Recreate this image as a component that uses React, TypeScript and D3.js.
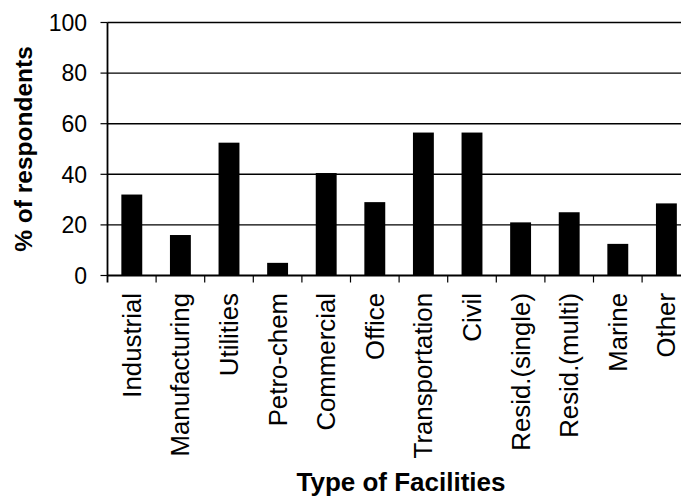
import React from "react";
import * as d3 from "d3";

const categories = [
  "Industrial",
  "Manufacturing",
  "Utilities",
  "Petro-chem",
  "Commercial",
  "Office",
  "Transportation",
  "Civil",
  "Resid.(single)",
  "Resid.(multi)",
  "Marine",
  "Other",
];
const values = [32, 16, 52.5, 5, 40.5, 29, 56.5, 56.5, 21, 25, 12.5, 28.5];
const yTicks = [0, 20, 40, 60, 80, 100];

const W = 681;
const H = 498;
const X0 = 107.5;
const STEP = 48.6;
const Y0 = 275.5;
const Y100 = 22.5;
const FONT = "'Liberation Sans', Arial, sans-serif";

export default function App() {
  const xBounds = d3
    .scaleBand<string>()
    .domain(categories)
    .range([X0, X0 + STEP * categories.length])
    .padding(0);
  const x = d3
    .scaleBand<string>()
    .domain(categories)
    .range([X0, X0 + STEP * categories.length])
    .paddingInner(0.57)
    .paddingOuter(0.285);
  const y = d3.scaleLinear().domain([0, 100]).range([Y0, Y100]);

  return (
    <svg
      width={W}
      height={H}
      style={{ position: "absolute", left: 0, top: 0, background: "#fff" }}
      fontFamily={FONT}
    >
      <rect x={0} y={0} width={W} height={H} fill="#fff" />
      {/* gridlines */}
      {yTicks.map((t) => (
        <line
          key={"g" + t}
          x1={X0}
          x2={W}
          y1={y(t)}
          y2={y(t)}
          stroke="#000"
          strokeWidth={t === 0 ? 1.8 : 1.4}
        />
      ))}
      {/* y ticks & labels */}
      {yTicks.map((t) => (
        <g key={"t" + t}>
          <line x1={X0 - 7} x2={X0} y1={y(t)} y2={y(t)} stroke="#000" strokeWidth={1.2} />
          <text
            x={87}
            y={y(t)}
            dy="0.36em"
            textAnchor="end"
            fontSize={23}
            fill="#000"
          >
            {t}
          </text>
        </g>
      ))}
      {/* y axis */}
      <line x1={X0} x2={X0} y1={Y100} y2={Y0 + 7} stroke="#000" strokeWidth={1.8} />
      {/* bars */}
      {categories.map((c, i) => (
        <rect
          key={"b" + c}
          x={x(c)}
          y={y(values[i])}
          width={x.bandwidth()}
          height={Y0 - y(values[i])}
          fill="#000"
        />
      ))}
      {/* x ticks */}
      {categories.map((c) => (
        <line
          key={"xt" + c}
          x1={(xBounds(c) as number) + STEP}
          x2={(xBounds(c) as number) + STEP}
          y1={Y0}
          y2={Y0 + 7}
          stroke="#000"
          strokeWidth={1.2}
        />
      ))}
      {/* x labels */}
      {categories.map((c) => {
        const cx = (x(c) as number) + x.bandwidth() / 2;
        return (
          <text
            key={"xl" + c}
            transform={`translate(${cx},${293}) rotate(-90)`}
            textAnchor="end"
            dy="0.35em"
            fontSize={25.8}
            fill="#000"
          >
            {c}
          </text>
        );
      })}
      {/* axis titles */}
      <text
        transform={`translate(${23},${149}) rotate(-90)`}
        textAnchor="middle"
        dy="0.35em"
        fontSize={24.5}
        fontWeight="bold"
        fill="#000"
      >
        % of respondents
      </text>
      <text
        x={401}
        y={491}
        textAnchor="middle"
        fontSize={26}
        fontWeight="bold"
        fill="#000"
      >
        Type of Facilities
      </text>
    </svg>
  );
}
